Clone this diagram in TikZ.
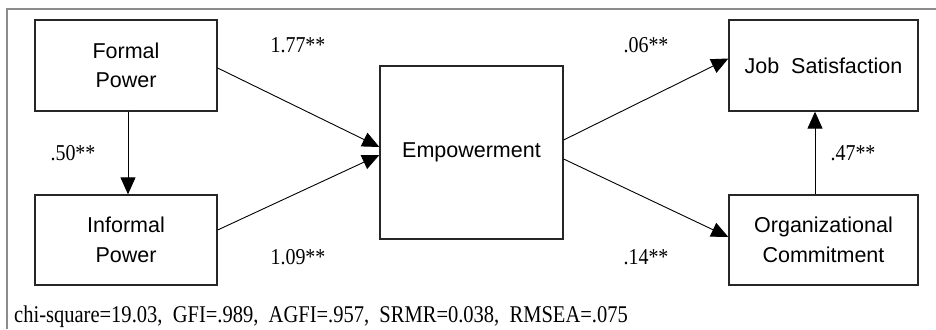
\documentclass[tikz,border=0pt]{standalone}
\usepackage{fontspec}
\setmainfont{Liberation Serif}
\newfontfamily\boxfont{Liberation Sans}
\usetikzlibrary{arrows.meta}
\begin{document}
\begin{tikzpicture}[x=1pt,y=1pt,
  var/.style={draw=black!85, line width=1.3pt, inner sep=0pt, align=center,
    font=\boxfont\fontsize{21.5}{29.5}\selectfont},
  path/.style={draw=black, line width=0.9pt, -{Triangle[length=17pt,width=15pt]}},
  coef/.style={font=\fontsize{21}{24}\selectfont, inner sep=0pt}]
\useasboundingbox (0,0) rectangle (936,-329);
\draw[draw=black!45, line width=1.5pt] (7,-329) -- (7,-9) -- (936,-9);
% boxes
\node[var, minimum width=182pt, minimum height=91pt] (fp) at (126,-65.5) {Formal\\Power};
\node[var, minimum width=182pt, minimum height=90pt] (ip) at (126,-240) {Informal\\Power};
\node[var, minimum width=183pt, minimum height=173pt] (emp) at (471.5,-152.5) {Empowerment};
\node[var, minimum width=189pt, minimum height=91pt] (js) at (823.5,-65.5) {Job\ \ Satisfaction};
\node[var, minimum width=189pt, minimum height=90pt] (oc) at (823.5,-240) {Organizational\\Commitment};
% connectors
\draw[path] ([yshift=-2.5pt]fp.east) -- ([yshift=5.5pt]emp.west);
\draw[path] ([yshift=10pt]ip.east) -- ([yshift=-2.5pt]emp.west);
\draw[path] ([xshift=2pt]fp.south) -- ([xshift=2pt]ip.north);
\draw[path] ([yshift=12.5pt]emp.east) -- ([yshift=7pt]js.west);
\draw[path] ([yshift=-6.5pt]emp.east) -- ([yshift=3pt]oc.west);
\draw[path] ([xshift=-8.5pt]oc.north) -- ([xshift=-8.5pt]js.south);
% coefficients
\node[coef] (c1) at (298,-45) {\scalebox{0.95}[1.08]{1.77**}};
\node[coef] (c2) at (298,-257) {\scalebox{0.95}[1.08]{1.09**}};
\node[coef] (c3) at (73,-153) {\scalebox{0.95}[1.08]{.50**}};
\node[coef] (c4) at (646,-45) {\scalebox{0.95}[1.08]{.06**}};
\node[coef] (c5) at (646,-257) {\scalebox{0.95}[1.08]{.14**}};
\node[coef] (c6) at (853,-153) {\scalebox{0.95}[1.08]{.47**}};
% fit indices
\node[anchor=base west, inner sep=0pt, font=\fontsize{24}{26}\selectfont] (fit) at (14,-322.5)
  {\scalebox{0.855}[1]{chi-square=19.03,\ \ GFI=.989,\ \ AGFI=.957,\ \ SRMR=0.038,\ \ RMSEA=.075}};
\end{tikzpicture}
\end{document}
